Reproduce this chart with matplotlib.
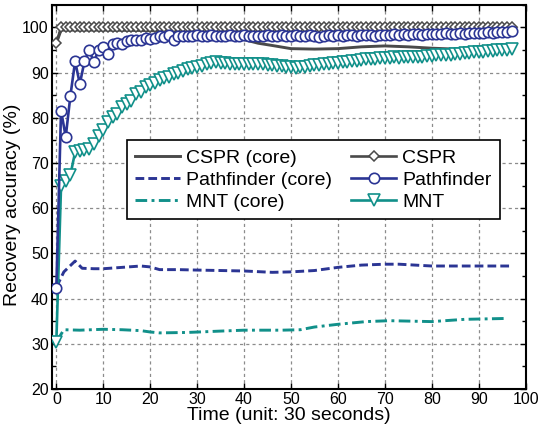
import matplotlib
matplotlib.use("Agg")
import matplotlib.pyplot as plt
from matplotlib.ticker import MultipleLocator

plt.rcParams['font.family'] = ['Liberation Sans', 'DejaVu Sans']

# ---------------- data ----------------
time_steps = list(range(0, 98))

cspr = [96.5, 100, 100, 100, 100, 100, 100, 100, 100, 100,
        100, 100, 100, 100, 100, 100, 100, 100, 100, 100,
        100, 100, 100, 100, 100, 100, 100, 100, 100, 100,
        100, 100, 100, 100, 100, 100, 100, 100, 100, 100,
        100, 100, 100, 100, 100, 100, 100, 100, 100, 100,
        100, 100, 100, 100, 100, 100, 100, 100, 100, 100,
        100, 100, 100, 100, 100, 100, 100, 100, 100, 100,
        100, 100, 100, 100, 100, 100, 100, 100, 100, 100,
        100, 100, 100, 100, 100, 100, 100, 100, 100, 100,
        100, 100, 100, 100, 100, 100, 100, 100]

pathfinder = [42.3, 81.6, 75.8, 84.9, 92.5, 87.5, 92.5, 95.0, 92.3, 95.0,
              95.6, 94.2, 96.3, 96.5, 96.3, 96.9, 97.2, 97.2, 97.3, 97.6,
              97.4, 97.7, 98.1, 97.9, 98.4, 97.3, 98.1, 98.0, 98.2, 98.1,
              98.3, 98.2, 98.1, 98.3, 98.2, 98.0, 98.2, 98.3, 98.1, 98.2,
              98.3, 98.1, 98.2, 98.0, 98.2, 98.3, 98.1, 98.2, 98.3, 98.2,
              98.1, 98.3, 98.2, 98.2, 98.3, 98.1, 97.8, 98.2, 98.3, 98.2,
              98.3, 98.2, 98.4, 98.3, 98.2, 98.3, 98.4, 98.3, 98.2, 98.4,
              98.3, 98.4, 98.5, 98.4, 98.5, 98.4, 98.5, 98.6, 98.4, 98.5,
              98.6, 98.5, 98.6, 98.7, 98.5, 98.6, 98.7, 98.6, 98.7, 98.8,
              98.7, 98.8, 98.9, 98.8, 98.9, 99.0, 98.9, 99.1]

mnt = [30.4, 64.8, 66.1, 67.4, 72.4, 72.6, 72.8, 73.2, 74.2, 76.0,
       77.2, 79.0, 80.1, 80.8, 82.3, 83.1, 83.8, 85.3, 85.7, 86.8,
       87.3, 87.8, 88.3, 88.7, 89.1, 89.6, 90.0, 90.3, 90.7, 91.0,
       91.2, 91.5, 91.8, 92.2, 92.3, 92.2, 92.1, 92.0, 92.0, 91.9,
       91.9, 91.9, 91.8, 91.8, 91.8, 91.7, 91.6, 91.5, 91.4, 91.3,
       91.2, 91.1, 91.2, 91.3, 91.5, 91.6, 91.7, 91.9, 92.0, 92.1,
       92.2, 92.3, 92.4, 92.5, 92.6, 92.8, 92.9, 93.0, 93.1, 93.2,
       93.3, 93.3, 93.4, 93.3, 93.4, 93.5, 93.5, 93.5, 93.5, 93.6,
       93.7, 93.8, 93.9, 94.0, 94.0, 94.1, 94.2, 94.3, 94.4, 94.5,
       94.6, 94.6, 94.7, 94.8, 94.9, 95.0, 95.1, 95.2]

cspr_core_x = [0, 1, 5, 10, 20, 27, 30, 35, 38, 40, 43, 46, 50, 55, 60, 65, 70, 75, 80, 85, 90, 96]
cspr_core = [96.5, 99.4, 99.4, 99.4, 99.3, 98.9, 98.7, 98.3, 97.8, 97.3, 96.5, 96.0, 95.3,
             95.2, 95.3, 95.7, 95.9, 95.7, 95.4, 95.2, 95.1, 95.0]

path_core_x = [0, 1.6, 4, 5.5, 8, 10, 14, 18, 20, 22, 26, 30, 35, 40, 46, 50, 55, 60, 65, 70, 73,
               80, 87, 97]
path_core = [42.5, 45.9, 48.3, 46.7, 46.6, 46.6, 46.9, 47.2, 47.0, 46.4, 46.4, 46.3, 46.2, 46.1,
             45.8, 45.9, 46.2, 46.9, 47.4, 47.6, 47.6, 47.2, 47.2, 47.2]

mnt_core_x = [0, 1.6, 5, 10, 14, 18, 20, 22, 28, 35, 40, 48, 52, 55, 60, 66, 71, 80, 87, 96]
mnt_core = [30.4, 33.1, 33.0, 33.2, 33.1, 32.9, 32.6, 32.4, 32.5, 32.8, 33.0, 33.0, 33.1, 33.7,
            34.3, 34.9, 35.1, 34.9, 35.4, 35.6]

x_ticks = [0, 10, 20, 30, 40, 50, 60, 70, 80, 90, 100]
y_ticks = [20, 30, 40, 50, 60, 70, 80, 90, 100]

# ---------------- style ----------------
GRAY = '#4a4a4a'
NAVY = '#2b3594'
TEAL = '#11908a'

fig = plt.figure(figsize=(5.38, 4.37), dpi=100)
ax = fig.add_axes([0.096, 0.110, 0.881, 0.879])

lw = 1.9
ax.plot(cspr_core_x, cspr_core, color=GRAY, lw=2.1, ls='-', label='CSPR (core)', zorder=3)
ax.plot(path_core_x, path_core, color=NAVY, lw=2.1, ls=(0, (3.0, 1.4)), label='Pathfinder (core)', zorder=3)
ax.plot(mnt_core_x, mnt_core, color=TEAL, lw=2.1, ls=(0, (4, 1.5, 1, 1.5)), label='MNT (core)', zorder=3)

ax.plot(time_steps, cspr, color=GRAY, lw=lw, marker='D', markersize=5.5, markerfacecolor='white',
        markeredgecolor=GRAY, markeredgewidth=1.1, label='CSPR', zorder=4)
ax.plot(time_steps, pathfinder, color=NAVY, lw=lw, marker='o', markersize=7.5, markerfacecolor='white',
        markeredgecolor=NAVY, markeredgewidth=1.2, label='Pathfinder', zorder=5)
ax.plot(time_steps, mnt, color=TEAL, lw=lw, marker='v', markersize=8.5, markerfacecolor='white',
        markeredgecolor=TEAL, markeredgewidth=1.2, label='MNT', zorder=4)

ax.set_xlim(-1, 100)
ax.set_ylim(20, 105)
ax.set_xticks(x_ticks)
ax.set_yticks(y_ticks)
ax.yaxis.set_minor_locator(MultipleLocator(5))
ax.tick_params(axis='both', which='both', direction='in', top=True, right=True, labelsize=11.5,
               pad=2)
ax.tick_params(which='major', length=4, width=1)
ax.tick_params(which='minor', length=3, width=1)
ax.grid(True, which='major', ls=(0, (2.5, 2.5)), color='#8c8c8c', lw=0.9)
for s in ax.spines.values():
    s.set_linewidth(1.5)
    s.set_color('black')

ax.set_xlabel('Time (unit: 30 seconds)', fontsize=14, labelpad=0)
ax.set_ylabel('Recovery accuracy (%)', fontsize=14)
ax.yaxis.set_label_coords(-0.064, 0.48)

leg = ax.legend(ncol=2, loc='upper left', bbox_to_anchor=(0.158, 0.447, 0.788, 0.2),
                mode='expand', fontsize=14, frameon=True, fancybox=False, framealpha=1,
                edgecolor='black', handlelength=2.3, handletextpad=0.3, columnspacing=0.4,
                labelspacing=0.22, borderpad=0.45, borderaxespad=0)
leg.get_frame().set_linewidth(1.2)
leg.set_zorder(10)

fig.savefig('out.png', dpi=100)
